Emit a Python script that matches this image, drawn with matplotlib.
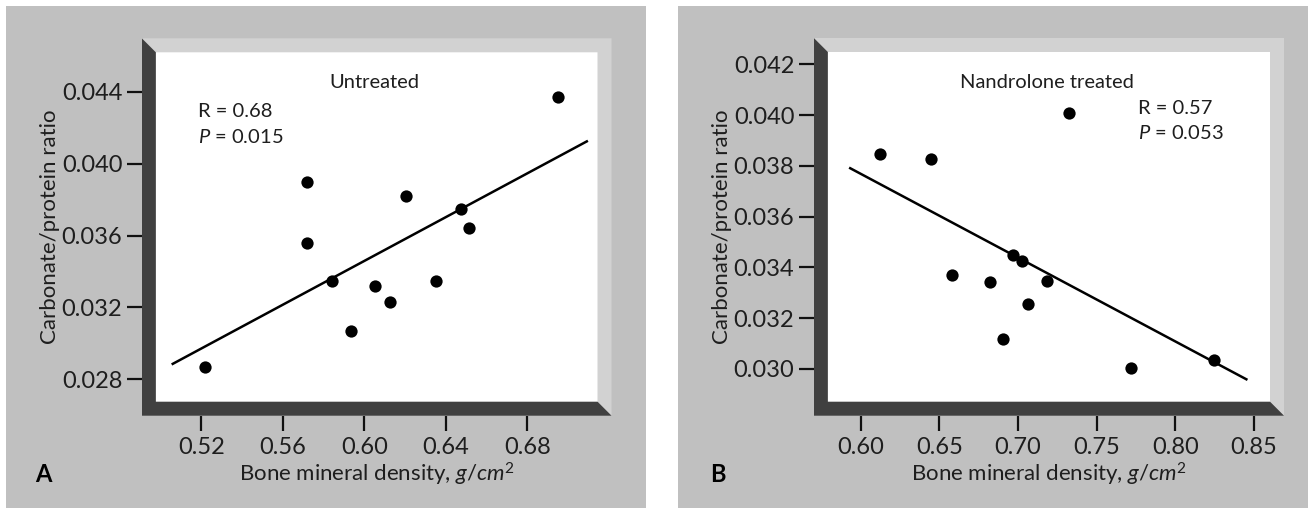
import matplotlib
matplotlib.use("Agg")
import matplotlib.pyplot as plt
from matplotlib.patches import Rectangle, Polygon

# ---------------- data ----------------
a_bmd = [0.5219, 0.5720, 0.5720, 0.5840, 0.5933, 0.6051, 0.6125, 0.6203, 0.6352, 0.6474, 0.6513, 0.6949]
a_ratio = [0.02870, 0.03899, 0.03556, 0.03347, 0.03069, 0.03319, 0.03232, 0.03820, 0.03349, 0.03746, 0.03642, 0.04372]
a_fit_x = [0.5055, 0.7097]
a_fit_y = [0.02883, 0.04127]
a_xticks = [0.52, 0.56, 0.60, 0.64, 0.68]
a_yticks = [0.028, 0.032, 0.036, 0.040, 0.044]
a_title = "Untreated"
a_stats = ["R = 0.68", r"$\mathit{P}$ = 0.015"]

b_bmd = [0.6123, 0.6447, 0.6578, 0.6821, 0.6906, 0.6968, 0.7024, 0.7064, 0.7187, 0.7324, 0.7722, 0.8249]
b_ratio = [0.03846, 0.03828, 0.03369, 0.03344, 0.03117, 0.03449, 0.03427, 0.03255, 0.03348, 0.04010, 0.03003, 0.03035]
b_fit_x = [0.5925, 0.8460]
b_fit_y = [0.03793, 0.02957]
b_xticks = [0.60, 0.65, 0.70, 0.75, 0.80, 0.85]
b_yticks = [0.030, 0.032, 0.034, 0.036, 0.038, 0.040, 0.042]
b_title = "Nandrolone treated"
b_stats = ["R = 0.57", r"$\mathit{P}$ = 0.053"]

xlabel = r"Bone mineral density, $\mathit{g/cm}^{2}$"
ylabel = "Carbonate/protein ratio"

# ---------------- style ----------------
FONT = "Lato"
plt.rcParams["font.family"] = [FONT, "DejaVu Sans"]
plt.rcParams["mathtext.fontset"] = "custom"
plt.rcParams["mathtext.rm"] = FONT
plt.rcParams["mathtext.it"] = FONT + ":italic"

BG = "#c0c0c0"
DARK = "#404040"
LIGHT = "#d2d2d2"
TXT = "#1e1e1e"

W, H = 1313, 513
fig = plt.figure(figsize=(W / 100, H / 100), dpi=100)
fig.patch.set_facecolor("white")


def frac_rect(x0, y0, x1, y1):
    return [x0 / W, 1 - y1 / H, (x1 - x0) / W, (y1 - y0) / H]


# gray panel backgrounds
for (x0, y0, x1, y1) in [(6, 6, 646, 508), (678, 6, 1308, 508)]:
    fig.patches.append(Rectangle((x0 / W, 1 - y1 / H), (x1 - x0) / W, (y1 - y0) / H,
                                 transform=fig.transFigure, facecolor=BG,
                                 edgecolor="none", zorder=-5))


def panel(rect_px, xlim, ylim, xs, ys, fx, fy, xt, yt, xfmt, yfmt,
          title, title_xy, stats, stats_xy, letter, letter_px):
    x0, y0, x1, y1 = rect_px
    ax = fig.add_axes(frac_rect(*rect_px))
    ax.set_facecolor("none")
    ax.set_xlim(*xlim)
    ax.set_ylim(*ylim)
    for s in ax.spines.values():
        s.set_visible(False)
    wpx, hpx = x1 - x0, y1 - y0
    bw = 14.0
    bx, by = bw / wpx, bw / hpx
    # white inner area
    ax.add_patch(Rectangle((bx, by), 1 - 2 * bx, 1 - 2 * by, transform=ax.transAxes,
                           facecolor="white", edgecolor="none", zorder=0))
    # light top/right bevel
    ax.add_patch(Polygon([(0, 1), (1, 1), (1, 0), (1 - bx, by), (1 - bx, 1 - by), (bx, 1 - by)],
                         closed=True, transform=ax.transAxes, facecolor=LIGHT,
                         edgecolor="none", zorder=0))
    # dark left/bottom bevel
    ax.add_patch(Polygon([(0, 1), (bx, 1 - by), (bx, by), (1 - bx, by), (1, 0), (0, 0)],
                         closed=True, transform=ax.transAxes, facecolor=DARK,
                         edgecolor="none", zorder=0))
    ax.plot(fx, fy, color="black", lw=1.8, zorder=3, solid_capstyle="butt")
    ax.scatter(xs, ys, s=78, color="black", zorder=4, linewidths=0)
    ax.set_xticks(xt)
    ax.set_yticks(yt)
    ax.set_xticklabels([xfmt.format(v) for v in xt])
    ax.set_yticklabels([yfmt.format(v) for v in yt])
    ax.tick_params(axis="both", direction="out", length=11, width=1.6,
                   color="#111111", labelsize=17, labelcolor=TXT)
    ax.tick_params(axis="x", pad=4)
    ax.tick_params(axis="y", pad=3)
    ax.set_xlabel(xlabel, fontsize=16, color=TXT)
    ax.set_ylabel(ylabel, fontsize=16, color=TXT)
    ax.yaxis.set_label_coords(-0.175, 0.5)
    ax.xaxis.set_label_coords(0.5, -0.12)
    ax.text(*title_xy, title, fontsize=14.5, ha="center", va="center", color=TXT, zorder=5)
    ax.text(stats_xy[0], stats_xy[1], stats[0], fontsize=14.5, ha="left", va="center",
            color=TXT, zorder=5)
    ax.text(stats_xy[0], stats_xy[2], stats[1], fontsize=14.5, ha="left", va="center",
            color=TXT, zorder=5)
    fig.text(letter_px[0] / W, 1 - letter_px[1] / H, letter, fontsize=17,
             fontweight="bold", ha="left", va="center", color="black")
    return ax


axA = panel((141.8, 38.3, 611.5, 415.7), (0.49086, 0.72127), (0.02598, 0.04697),
            a_bmd, a_ratio, a_fit_x, a_fit_y, a_xticks, a_yticks, "{:.2f}", "{:.3f}",
            a_title, (0.6051, 0.04450), a_stats, (0.5183, 0.04290, 0.04150), "A", (35, 474))

axB = panel((813.8, 38.0, 1284.0, 415.7), (0.57003, 0.86925), (0.028159, 0.043036),
            b_bmd, b_ratio, b_fit_x, b_fit_y, b_xticks, b_yticks, "{:.2f}", "{:.3f}",
            b_title, (0.7182, 0.04128), b_stats, (0.7765, 0.04027, 0.03928), "B", (710, 474))

fig.savefig("out.png", dpi=100)
